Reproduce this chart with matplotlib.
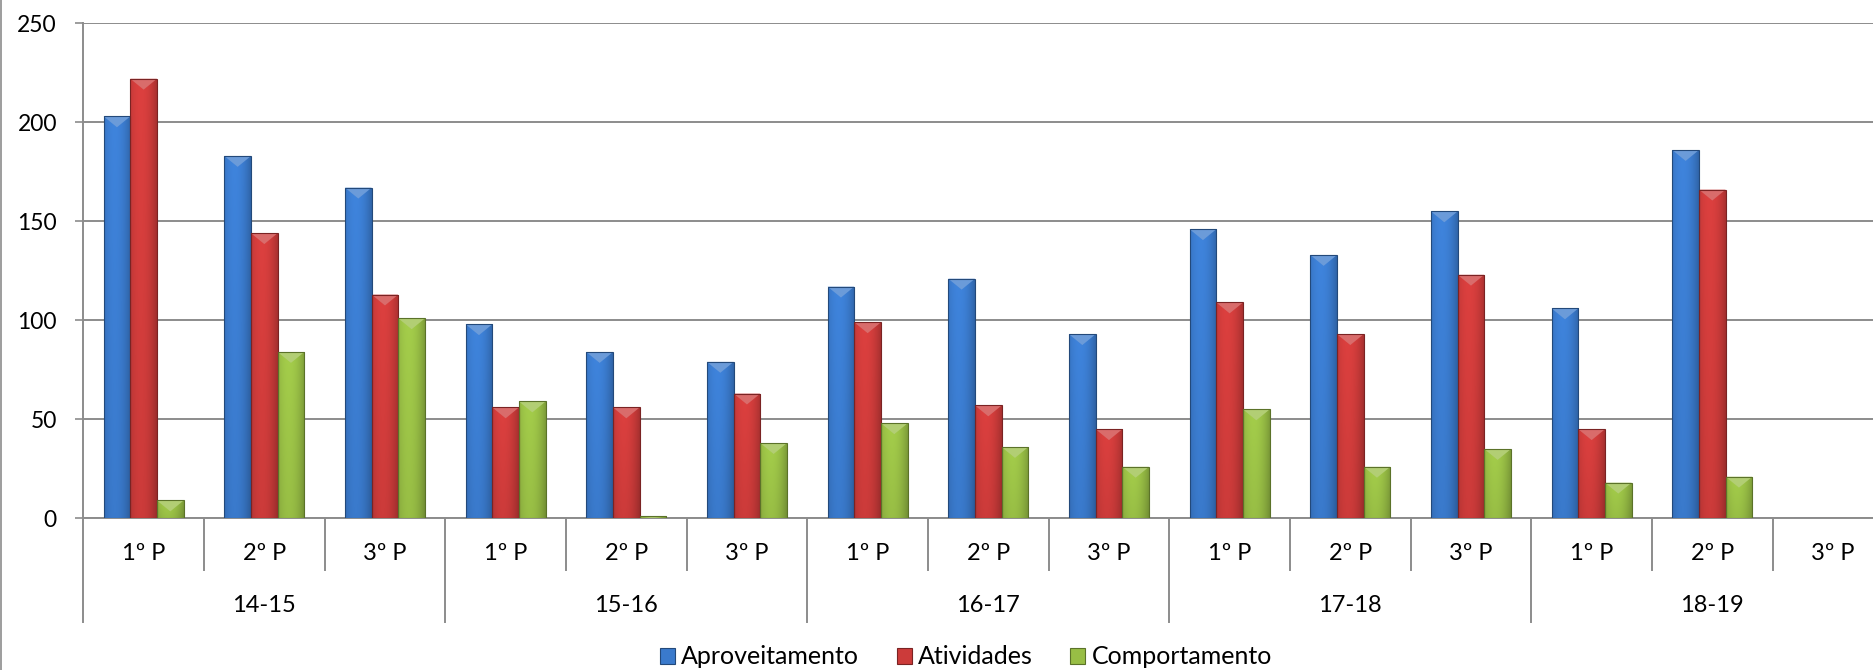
import numpy as np
import matplotlib.pyplot as plt
from matplotlib.patches import Patch, Polygon
from matplotlib.lines import Line2D
from matplotlib.colors import to_rgb
import matplotlib.transforms as mtransforms

plt.rcParams['font.family'] = ['Lato', 'DejaVu Sans']

# dados
anos = ['14-15', '15-16', '16-17', '17-18', '18-19']
periodos = ['1º P', '2º P', '3º P']
aproveitamento = [203, 183, 167, 98, 84, 79, 117, 121, 93, 146, 133, 155, 106, 186, 0]
atividades = [222, 144, 113, 56, 56, 63, 99, 57, 45, 109, 93, 123, 45, 166, 0]
comportamento = [9, 84, 101, 59, 1, 38, 48, 36, 26, 55, 26, 35, 18, 21, 0]
series = ['Aproveitamento', 'Atividades', 'Comportamento']
cores = ['#3a7acc', '#cc3b3a', '#98be45']
yticks = [0, 50, 100, 150, 200, 250]

W, H = 1874, 670
fig = plt.figure(figsize=(W / 100, H / 100), dpi=100)
ax = fig.add_axes([83.3 / W, 1 - 518.3 / H, 1810 / W, 495 / H])

n = len(aproveitamento)
x = np.arange(n)
largura = 0.221
grey = '#8c8c8c'


def shade(cor, f):
    c = np.array(to_rgb(cor))
    if f >= 1:
        return c + (1 - c) * (f - 1)
    return c * f


def barra_3d(ax, bar, cor):
    x0, y0 = bar.get_x(), bar.get_y()
    w, h = bar.get_width(), bar.get_height()
    if not h > 0:
        return
    # gradiente horizontal/vertical imitando o bisel do Excel
    u = np.linspace(0, 1, 24)[None, :]
    v = np.linspace(1, 0, 60)[:, None]
    f = 0.76 + 0.24 * (1 - ((u - 0.4) / 0.6) ** 2) + 0.08 * v
    base = np.array(to_rgb(cor))
    img = np.clip(base[None, None, :] * f[:, :, None], 0, 1)
    im = ax.imshow(img, extent=(x0, x0 + w, y0, y0 + h), aspect='auto',
                   zorder=3, interpolation='bilinear')
    im.set_clip_path(bar)
    d = min(5.5, h)
    tri = Polygon([(x0, h), (x0 + w, h), (x0 + w / 2, h - d)], closed=True,
                  facecolor=shade(cor, 1.25), edgecolor='none', zorder=4)
    ax.add_patch(tri)


for k, (vals, cor) in enumerate(zip([aproveitamento, atividades, comportamento], cores)):
    bars = ax.bar(x + (k - 1) * largura, vals, largura, color=cor,
                  edgecolor=shade(cor, 0.6), linewidth=0.8, zorder=2)
    for b in bars:
        barra_3d(ax, b, cor)
        if b.get_height() > 0:
            b.set_zorder(5)
            b.set_facecolor('none')

ax.set_xlim(-0.5, n - 0.5)
ax.set_ylim(0, 250)
ax.set_yticks(yticks)
ax.tick_params(axis='y', labelsize=16.5, length=6, width=1.2, color=grey, pad=13,
               labelcolor='black')
ax.set_xticks([])
ax.yaxis.grid(True, color=grey, linewidth=1.4, zorder=0)
ax.set_axisbelow(True)
for s in ['top', 'right']:
    ax.spines[s].set_visible(False)
ax.spines['left'].set_color(grey)
ax.spines['left'].set_linewidth(1.4)
ax.spines['bottom'].set_color(grey)
ax.spines['bottom'].set_linewidth(1.4)

# eixo de categorias em dois niveis
trans = mtransforms.blended_transform_factory(ax.transData, ax.transAxes)
for i in range(n + 1):
    comprimento = 0.21 if i % 3 == 0 else 0.105
    ax.plot([i - 0.5, i - 0.5], [0, -comprimento], color=grey, lw=1.4,
            transform=trans, clip_on=False)
for i in range(n):
    ax.text(i, -0.071, periodos[i % 3], transform=trans, ha='center',
            va='center', fontsize=17)
for j, ano in enumerate(anos):
    ax.text(3 * j + 1, -0.176, ano, transform=trans, ha='center',
            va='center', fontsize=17)

# borda esquerda da area do grafico
fig.add_artist(Line2D([1.5 / W, 1.5 / W], [0, 1], color=grey, lw=1.2,
                      transform=fig.transFigure))

handles = [Patch(facecolor=c, edgecolor=shade(c, 0.6), linewidth=0.8) for c in cores]
fig.legend(handles, series, loc='center', bbox_to_anchor=(966 / W, 13 / H), ncol=3,
           frameon=False, fontsize=18, handlelength=0.6, handleheight=0.6,
           handletextpad=0.25, columnspacing=1.5, borderaxespad=0)

fig.savefig('out.png', dpi=100)
